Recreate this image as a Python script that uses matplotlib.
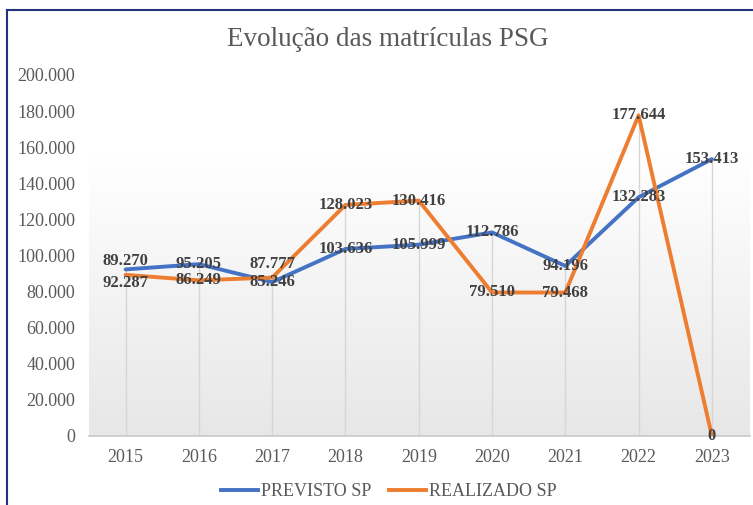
import numpy as np
import matplotlib
matplotlib.use("Agg")
import matplotlib.pyplot as plt
from matplotlib.lines import Line2D

# data
anos = ['2015', '2016', '2017', '2018', '2019', '2020', '2021', '2022', '2023']
previsto = [92287, 95205, 85246, 103636, 105999, 112786, 94196, 132283, 153413]
realizado = [89270, 86249, 87777, 128023, 130416, 79510, 79468, 177644, 0]
# label vertical shift in points (most labels sit on the point)
off_prev = [-10, 0, 0, 0, 0, 0, 0, 0, 0]
off_real = [10, 0, 10, 0, 0, 0, 0, 0, 0]

blue = '#4472C4'
orange = '#ED7D31'
txt_grey = '#595959'
lbl_grey = '#404040'

plt.rcParams['font.family'] = ['Liberation Serif', 'DejaVu Serif']

def fmt(v):
    return f"{v:,}".replace(',', '.')

fig = plt.figure(figsize=(7.53, 5.05), dpi=100)
ax = fig.add_axes([89/753, 69/505, 661/753, 361/505])

x = np.arange(len(anos))
ax.set_xlim(-0.5, 8.52)
ax.set_ylim(0, 200000)

# plot area gradient
grad = np.linspace(0, 1, 256).reshape(-1, 1)
cmap = matplotlib.colors.LinearSegmentedColormap.from_list('g', ['#e7e7e7', '#ffffff'])
ax.imshow(grad, cmap=cmap, aspect='auto', origin='lower',
          extent=[-0.5, 8.52, 0, 155000], zorder=0)

# drop lines
tops = np.maximum(previsto, realizado)
ax.vlines(x, 0, tops, color='#d6d6d6', lw=1, zorder=1)

ax.plot(x, previsto, color=blue, lw=2.8, zorder=3, solid_capstyle='round')
ax.plot(x, realizado, color=orange, lw=2.8, zorder=3, solid_capstyle='round')

for i in range(len(anos)):
    ax.annotate(fmt(previsto[i]), (x[i], previsto[i]), xytext=(0, off_prev[i]),
                textcoords='offset points', ha='center', va='center',
                fontsize=12, fontweight='bold', color=lbl_grey, zorder=4)
    ax.annotate(fmt(realizado[i]), (x[i], realizado[i]), xytext=(0, off_real[i]),
                textcoords='offset points', ha='center', va='center',
                fontsize=12, fontweight='bold', color=lbl_grey, zorder=4)

for s in ['top', 'right', 'left']:
    ax.spines[s].set_visible(False)
ax.spines['bottom'].set_color('#c8c8c8')
ax.spines['bottom'].set_linewidth(1.2)

ax.set_xticks(x)
ax.set_xticklabels(anos)
ax.set_yticks(np.arange(0, 200001, 20000))
ax.set_yticklabels([fmt(v) for v in range(0, 200001, 20000)])
ax.tick_params(axis='x', length=0, pad=9, labelsize=13, colors=txt_grey)
ax.tick_params(axis='y', length=0, pad=10, labelsize=13, colors=txt_grey)
ax.patch.set_alpha(0)

fig.text(388/753, 1 - 40/505, 'Evolução das matrículas PSG', ha='center', va='center',
         fontsize=19.5, color=txt_grey)

handles = [Line2D([], [], color=blue, lw=2.8), Line2D([], [], color=orange, lw=2.8)]
fig.legend(handles, ['PREVISTO SP', 'REALIZADO SP'], loc='center',
           bbox_to_anchor=(389/753, 1 - 492/505), ncol=2, frameon=False,
           fontsize=13, handlelength=2.05, handletextpad=0.15, columnspacing=1.0,
           labelcolor=txt_grey)

# chart border
navy = '#27307a'
fig.add_artist(Line2D([7/753, 7/753], [0, 1 - 10/505], color=navy, lw=1.5))
fig.add_artist(Line2D([7/753, 1], [1 - 10/505, 1 - 10/505], color=navy, lw=1.5))

fig.savefig('out.png', dpi=100)
